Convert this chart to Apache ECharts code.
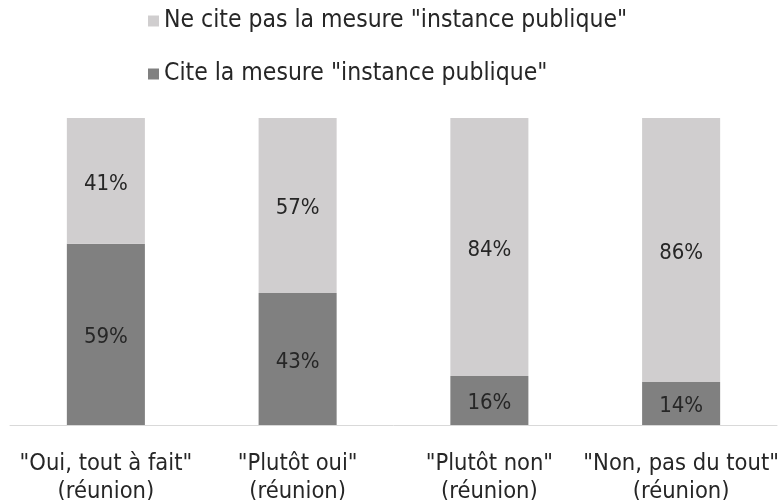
<!DOCTYPE html>
<html>
<head>
<meta charset="utf-8">
<script src="https://cdn.jsdelivr.net/npm/echarts@6/dist/echarts.min.js"></script>
<style>
  html, body { margin: 0; padding: 0; background: #ffffff; }
  #chart { width: 780px; height: 500px; }
</style>
</head>
<body>
<div id="chart"></div>
<script>
// Categories and shares (%) of respondents
const categories = [
  '"Oui, tout à fait"\n(réunion)',
  '"Plutôt oui"\n(réunion)',
  '"Plutôt non"\n(réunion)',
  '"Non, pas du tout"\n(réunion)'
];
const citeValues = [59, 43, 16, 14];
const neCitePasValues = [41, 57, 84, 86];
const seriesNames = ['Ne cite pas la mesure "instance publique"', 'Cite la mesure "instance publique"'];

const FONT = '"Liberation Sans Narrow", "DejaVu Sans Condensed", "Noto Sans", sans-serif';

const valueLabel = {
  show: true,
  position: 'inside',
  formatter: '{c}%',
  offset: [0, 3],
  fontFamily: FONT,
  fontSize: 22,
  color: '#262626'
};

const chart = echarts.init(document.getElementById('chart'));
chart.setOption({
  animation: false,
  textStyle: { fontFamily: FONT },
  legend: {
    orient: 'vertical',
    left: 143,
    top: 2,
    itemWidth: 11,
    itemHeight: 11,
    itemGap: 25,
    icon: 'rect',
    data: seriesNames,
    textStyle: { fontFamily: FONT, fontSize: 24.5, color: '#262626', lineHeight: 28 }
  },
  grid: { left: 10, right: 3, top: 118, bottom: 75, outerBoundsMode: 'none', containLabel: false },
  xAxis: {
    type: 'category',
    data: categories,
    axisLine: { lineStyle: { color: '#d9d9d9', width: 1 } },
    axisTick: { show: false },
    axisLabel: {
      interval: 0,
      margin: 25,
      fontFamily: FONT,
      fontSize: 23.5,
      lineHeight: 28,
      color: '#262626'
    }
  },
  yAxis: {
    type: 'value',
    min: 0,
    max: 100,
    show: false,
    splitLine: { show: false }
  },
  series: [
    {
      name: seriesNames[1],
      type: 'bar',
      stack: 'total',
      barWidth: '40.7%',
      data: citeValues,
      itemStyle: { color: '#808080' },
      label: valueLabel
    },
    {
      name: seriesNames[0],
      type: 'bar',
      stack: 'total',
      barWidth: '40.7%',
      data: neCitePasValues,
      itemStyle: { color: '#d0cecf' },
      label: valueLabel
    }
  ]
});
</script>
</body>
</html>
